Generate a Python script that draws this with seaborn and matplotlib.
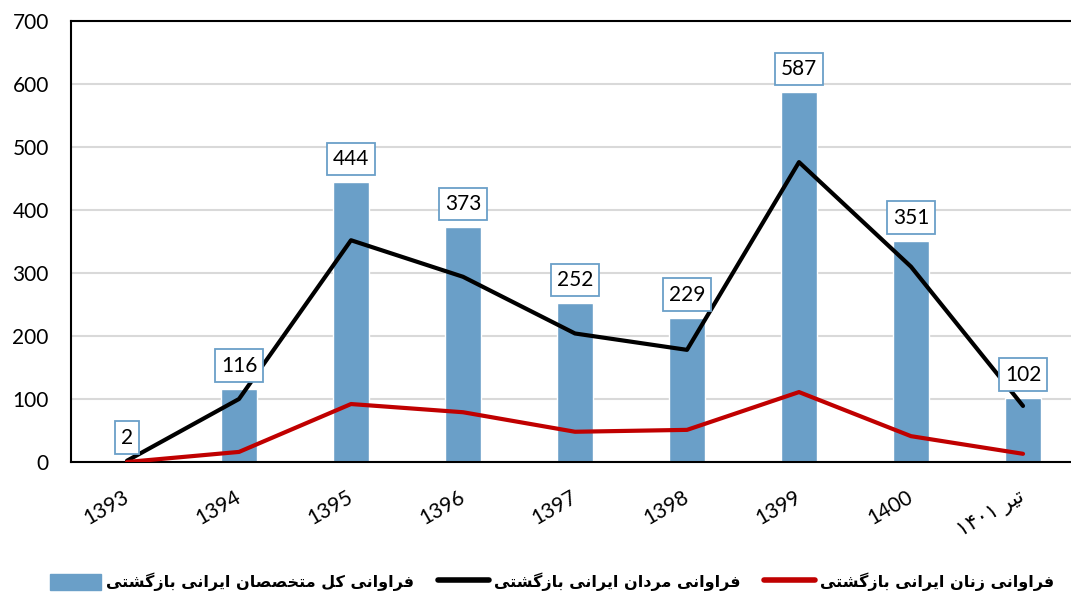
import numpy as np
import pandas as pd
import matplotlib
matplotlib.use("Agg")
import matplotlib.pyplot as plt
import seaborn as sns
from matplotlib.patches import Patch
from matplotlib.lines import Line2D

# data
years = ['1393', '1394', '1395', '1396', '1397', '1398', '1399', '1400', 'تیر ۱۴۰۱']
total = [2, 116, 444, 373, 252, 229, 587, 351, 102]
men = [2, 100, 352, 294, 204, 178, 476, 310, 89]
women = [0, 16, 92, 79, 48, 51, 111, 41, 13]

legend_labels = ['فراوانی کل متخصصان ایرانی بازگشتی',
                 'فراوانی مردان ایرانی بازگشتی',
                 'فراوانی زنان ایرانی بازگشتی']

BAR_COLOR = '#6a9fc8'
RED = '#c00000'

# matplotlib has no arabic shaping, so map letters to presentation forms
# (isolated, final, initial, medial) and lay the words out right-to-left
FORMS = {
    'ا': ('\uFE8D', '\uFE8E'), 'ب': ('\uFE8F', '\uFE90', '\uFE91', '\uFE92'),
    'ت': ('\uFE95', '\uFE96', '\uFE97', '\uFE98'), 'خ': ('\uFEA5', '\uFEA6', '\uFEA7', '\uFEA8'),
    'د': ('\uFEA9', '\uFEAA'), 'ر': ('\uFEAD', '\uFEAE'), 'ز': ('\uFEAF', '\uFEB0'),
    'ش': ('\uFEB5', '\uFEB6', '\uFEB7', '\uFEB8'), 'ص': ('\uFEB9', '\uFEBA', '\uFEBB', '\uFEBC'),
    'ف': ('\uFED1', '\uFED2', '\uFED3', '\uFED4'), 'ل': ('\uFEDD', '\uFEDE', '\uFEDF', '\uFEE0'),
    'م': ('\uFEE1', '\uFEE2', '\uFEE3', '\uFEE4'), 'ن': ('\uFEE5', '\uFEE6', '\uFEE7', '\uFEE8'),
    'و': ('\uFEED', '\uFEEE'), 'ی': ('\uFBFC', '\uFBFD', '\uFBFE', '\uFBFF'),
    'ک': ('\uFB8E', '\uFB8F', '\uFB90', '\uFB91'), 'گ': ('\uFB92', '\uFB93', '\uFB94', '\uFB95'),
}


def shape_word(s):
    out = []
    for i, ch in enumerate(s):
        if ch not in FORMS:
            out.append(ch)
            continue
        prev = s[i - 1] if i > 0 else ''
        nxt = s[i + 1] if i + 1 < len(s) else ''
        join_prev = prev in FORMS and len(FORMS[prev]) == 4
        join_next = len(FORMS[ch]) == 4 and nxt in FORMS
        f = FORMS[ch]
        if join_prev and join_next:
            out.append(f[3])
        elif join_prev:
            out.append(f[1])
        elif join_next:
            out.append(f[2])
        else:
            out.append(f[0])
    if any(c in FORMS for c in s):
        return ''.join(out)[::-1]
    return ''.join(out)


def rtl(s):
    if not any(c in FORMS for c in s):
        return s
    return ' '.join(shape_word(w) for w in s.split(' ')[::-1])


sns.set_theme(style='white')
plt.rcParams['font.family'] = ['Lato', 'DejaVu Sans']
plt.rcParams['text.color'] = 'black'
plt.rcParams['xtick.color'] = 'black'
plt.rcParams['ytick.color'] = 'black'

df = pd.DataFrame({'year': [rtl(y) for y in years], 'total': total,
                   'men': men, 'women': women})

fig = plt.figure(figsize=(10.71, 6.01), dpi=100)
ax = fig.add_axes([71 / 1071, 139 / 601, 1008 / 1071, 441 / 601])

sns.barplot(data=df, x='year', y='total', color=BAR_COLOR, width=0.32,
            saturation=1, ax=ax, zorder=2)
pos = np.arange(len(years))
sns.lineplot(x=pos, y=df['men'], color='black', linewidth=3, ax=ax, zorder=3)
sns.lineplot(x=pos, y=df['women'], color=RED, linewidth=3, ax=ax, zorder=3)

ax.bar_label(ax.containers[0], labels=[str(v) for v in total], padding=9.5,
             fontsize=15, zorder=5,
             bbox=dict(boxstyle='square,pad=0.3', fc='white', ec=BAR_COLOR, lw=1.3))

ax.set_ylim(0, 700)
ax.set_xlim(-0.5, len(years) - 0.5)
ax.set_yticks(range(0, 701, 100))
ax.yaxis.grid(True, color='#d9d9d9', linewidth=1.5, zorder=0)
ax.set_axisbelow(True)
ax.set_xlabel('')
ax.set_ylabel('')
for side in ['left', 'bottom', 'top']:
    ax.spines[side].set_color('black')
    ax.spines[side].set_linewidth(1.5)
ax.spines['right'].set_visible(False)
ax.tick_params(axis='y', length=0, pad=16, labelsize=15)
ax.tick_params(axis='x', length=0, pad=24, labelsize=15)
for lbl in ax.get_xticklabels():
    lbl.set_rotation(30)
    lbl.set_ha('right')
    lbl.set_rotation_mode('anchor')
    lbl.set_va('center')
    lbl.set_fontfamily(['Lato', 'DejaVu Sans'])

handles = [Patch(color=BAR_COLOR), Line2D([], [], color='black', lw=4),
           Line2D([], [], color=RED, lw=4)]
ax.legend(handles, [rtl(t) for t in legend_labels], loc='center',
          bbox_to_anchor=(481 / 1008, -120 / 441), ncol=3, frameon=False,
          prop={'family': 'DejaVu Sans', 'size': 11.5, 'weight': 'bold'},
          handlelength=3.2, handleheight=1.2, columnspacing=1.5, handletextpad=0.3)

fig.savefig('out.png', dpi=100)
